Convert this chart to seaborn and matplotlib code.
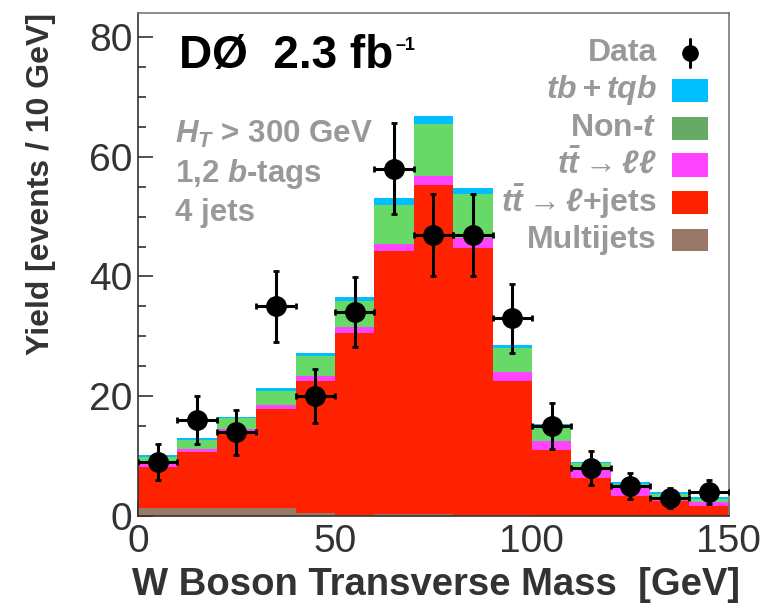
import numpy as np
import pandas as pd
import matplotlib
matplotlib.use("Agg")
import matplotlib.pyplot as plt
from matplotlib.patches import Rectangle
from matplotlib.ticker import MultipleLocator
import seaborn as sns

# bins de 10 GeV entre 0 e 150
bin_edges = list(range(0, 160, 10))
bin_centers = np.array(bin_edges[:-1]) + 5

# contribuicoes (eventos / 10 GeV), empilhadas de baixo para cima
multijets = [1.3, 1.3, 1.3, 1.3, 0.5, 0.2, 0.4, 0.4, 0.1, 0.1, 0.0, 0.0, 0.0, 0.0, 0.0]
tt_ljets = [6.9, 9.4, 12.8, 16.5, 22.0, 30.4, 43.8, 54.9, 44.6, 22.4, 11.1, 6.3, 3.4, 2.5, 1.7]
tt_ll = [0.6, 0.5, 0.4, 0.7, 0.9, 1.0, 1.3, 1.5, 1.7, 1.6, 1.5, 1.5, 1.2, 0.7, 0.7]
non_t = [1.0, 1.5, 1.8, 2.4, 3.3, 4.3, 6.4, 8.6, 7.4, 3.9, 2.4, 1.1, 0.7, 0.5, 0.5]
tb_tqb = [0.4, 0.3, 0.3, 0.4, 0.5, 0.7, 1.2, 1.4, 0.9, 0.5, 0.4, 0.2, 0.3, 0.3, 0.3]

data_counts = [9, 16, 14, 35, 20, 34, 58, 47, 47, 33, 15, 8, 5, 3, 4]

processos = ["tb+tqb", "Non-t", "ttll", "ttlj", "Multijets"]
rotulos = [r"$\mathbfit{tb + tqb}$", r"Non-$\mathbfit{t}$",
           r"$\mathbfit{t\bar{t}}$$\rightarrow\ell\ell$",
           r"$\mathbfit{t\bar{t}}$$\rightarrow\ell$+jets", "Multijets"]
cores_barras = ["#00BFFF", "#66D966", "#FF44FF", "#FF2200", "#9A7868"]
cores_legenda = ["#00BFFF", "#66AA66", "#FF44FF", "#FF2200", "#9A7868"]

valores = {"tb+tqb": tb_tqb, "Non-t": non_t, "ttll": tt_ll,
           "ttlj": tt_ljets, "Multijets": multijets}

linhas = []
for proc in processos:
    for c, v in zip(bin_centers, valores[proc]):
        linhas.append({"mt": c, "yield": v, "processo": proc})
df = pd.DataFrame(linhas)

sns.set_style("ticks")
plt.rcParams["font.family"] = ["Liberation Sans", "DejaVu Sans"]
plt.rcParams["mathtext.fontset"] = "custom"
plt.rcParams["mathtext.it"] = "Liberation Sans:italic:bold"
plt.rcParams["mathtext.bfit"] = "Liberation Sans:italic:bold"
plt.rcParams["mathtext.rm"] = "Liberation Sans:bold"
plt.rcParams["mathtext.bf"] = "Liberation Sans:bold"

fig = plt.figure(figsize=(7.68, 6.11), dpi=100)
ax = fig.add_axes([0.1797, 0.1555, 0.7693, 0.8232])

sns.histplot(data=df, x="mt", weights="yield", hue="processo",
             hue_order=processos, palette=cores_barras, bins=bin_edges,
             multiple="stack", element="step", alpha=1, linewidth=0,
             legend=False, ax=ax)

ax.errorbar(bin_centers, data_counts, xerr=5, yerr=np.sqrt(data_counts),
            fmt="o", color="black", markersize=14, elinewidth=2.2,
            capsize=2.5, capthick=2, zorder=5)

ax.set_xlim(0, 150)
ax.set_ylim(0, 84)
ax.xaxis.set_major_locator(MultipleLocator(50))
ax.xaxis.set_minor_locator(MultipleLocator(10))
ax.yaxis.set_major_locator(MultipleLocator(20))
ax.yaxis.set_minor_locator(MultipleLocator(5))
ax.tick_params(which="both", direction="in", top=False, right=False,
               color="#333333", width=1.2)
ax.tick_params(which="major", length=11, labelsize=28, labelcolor="#333333")
ax.tick_params(which="minor", length=6)
ax.tick_params(axis="x", pad=6)
ax.tick_params(axis="y", pad=4)

for s in ["top", "right"]:
    ax.spines[s].set_color("#777777")
for s in ["left", "bottom"]:
    ax.spines[s].set_color("#333333")
for s in ax.spines.values():
    s.set_linewidth(1.2)

ax.set_xlabel("W Boson Transverse Mass  [GeV]", fontsize=27.5,
              fontweight="bold", color="#333333", loc="right")
ax.xaxis.set_label_coords(1.019, -0.102)
ax.set_ylabel("Yield [events / 10 GeV]", fontsize=23,
              fontweight="bold", color="#333333", loc="top")
ax.yaxis.set_label_coords(-0.138, 1.0)

# textos do canto superior esquerdo
t_d0 = ax.text(0.07, 0.915, "DØ  2.3 fb", transform=ax.transAxes,
               fontsize=33, fontweight="bold", color="black", va="center")
ax.annotate("\u20131", xy=(1.0, 0.93), xycoords=t_d0, xytext=(1, 0),
            textcoords="offset points", fontsize=13, fontweight="bold",
            color="black", ha="left", va="top")
cinza = "#999999"
for i, txt in enumerate([r"$\mathbfit{H_T}$ > 300 GeV", r"1,2 $\mathbfit{b}$-tags",
                         "4 jets"]):
    ax.text(0.063, 0.758 - i * 0.078, txt, transform=ax.transAxes,
            fontsize=22.5, fontweight="bold", color=cinza, va="center")

# legenda desenhada a mao
x_txt = 657
x_box0, x_box1 = 672, 708
ys = [53, 90, 128, 165, 202, 240]


def fig2ax(px, py):
    return ax.transAxes.inverted().transform(
        fig.transFigure.transform((px / 768, 1 - py / 611)))


for i, y in enumerate(ys):
    tx, ty = fig2ax(x_txt, y)
    label = "Data" if i == 0 else rotulos[i - 1]
    ax.text(tx, ty, label, transform=ax.transAxes, ha="right", va="center",
            fontsize=23, fontweight="bold", color=cinza)
    if i == 0:
        cx, cy = fig2ax(690, y)
        _, cy0 = fig2ax(690, y - 14)
        _, cy1 = fig2ax(690, y + 14)
        ax.plot([cx, cx], [cy0, cy1], transform=ax.transAxes, color="black",
                lw=2.2, clip_on=False, zorder=6)
        ax.plot([cx], [cy], "o", transform=ax.transAxes, color="black",
                markersize=11, clip_on=False, zorder=6)
    else:
        bx0, by0 = fig2ax(x_box0, y + 11.5)
        bx1, by1 = fig2ax(x_box1, y - 11.5)
        ax.add_patch(Rectangle((bx0, by0), bx1 - bx0, by1 - by0,
                               transform=ax.transAxes,
                               facecolor=cores_legenda[i - 1],
                               edgecolor="none", zorder=6))

fig.savefig("out.png", dpi=100)
